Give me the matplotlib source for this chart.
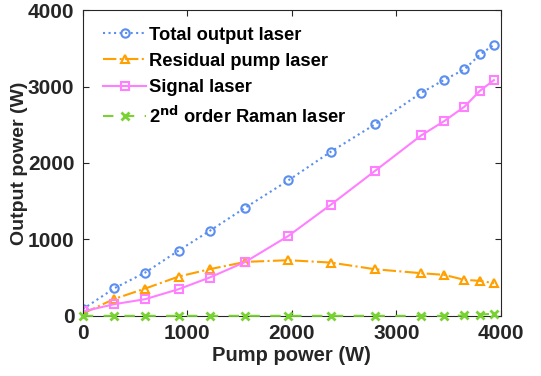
import numpy as np
import matplotlib.pyplot as plt

plt.rcParams['font.family'] = ['Liberation Sans', 'DejaVu Sans']
plt.rcParams['font.weight'] = 'bold'

# pump power (W)
pump = [0, 303, 597, 917, 1213, 1555, 1967, 2373, 2794, 3238, 3458, 3650, 3800, 3933]
total_out = [87, 362, 566, 854, 1111, 1416, 1773, 2148, 2505, 2919, 3089, 3224, 3420, 3547]
residual = [30, 222, 357, 514, 610, 706, 728, 697, 610, 558, 536, 471, 458, 427]
signal = [57, 153, 218, 349, 501, 706, 1046, 1455, 1895, 2362, 2549, 2736, 2946, 3085]
raman2 = [0, 0, 0, 0, 0, 0, 0, 0, 0, 0, 0, 5, 15, 30]

fig = plt.figure(figsize=(5.41, 3.76), dpi=100)
ax = fig.add_axes([0.153, 0.16, 0.773, 0.813])

ax.plot(pump, total_out, ':', color='#5a8ef0', marker='o', mfc='none', ms=6, mew=1.5, lw=1.5,
        label='Total output laser')
ax.plot(pump, residual, '-.', color='#ffa000', marker='^', mfc='none', ms=6, mew=1.5, lw=1.5,
        label='Residual pump laser')
ax.plot(pump, signal, '-', color='#ff80ff', marker='s', mfc='none', ms=6, mew=1.5, lw=1.5,
        label='Signal laser')
ax.plot(pump, raman2, '--', color='#78d232', marker='x', ms=6, mew=2, lw=1.5,
        dashes=(5, 5), clip_on=False, zorder=3, label=r'2$^{\mathbf{nd}}$ order Raman laser')

ax.set_xlim(0, 4000)
ax.set_ylim(0, 4000)
ax.set_xticks([0, 1000, 2000, 3000, 4000])
ax.set_yticks([0, 1000, 2000, 3000, 4000])
ax.tick_params(direction='in', top=True, right=True, labelsize=15, length=4, pad=6, colors='#262626')
for lab in ax.get_xticklabels() + ax.get_yticklabels():
    lab.set_fontweight('bold')
for s in ax.spines.values():
    s.set_color('#262626')
    s.set_linewidth(0.8)

ax.set_xlabel('Pump power (W)', fontsize=14.5, fontweight='bold', labelpad=2, color='#262626')
ax.set_ylabel('Output power (W)', fontsize=14, fontweight='bold', labelpad=0, color='#262626')

leg = ax.legend(loc='upper left', frameon=False, fontsize=13.2, handlelength=2.3,
                handletextpad=0.2, labelspacing=0.5, borderaxespad=0.5,
                bbox_to_anchor=(0.01, 1.0))
for t in leg.get_texts():
    t.set_fontweight('bold')

fig.savefig('out.png', dpi=100)
